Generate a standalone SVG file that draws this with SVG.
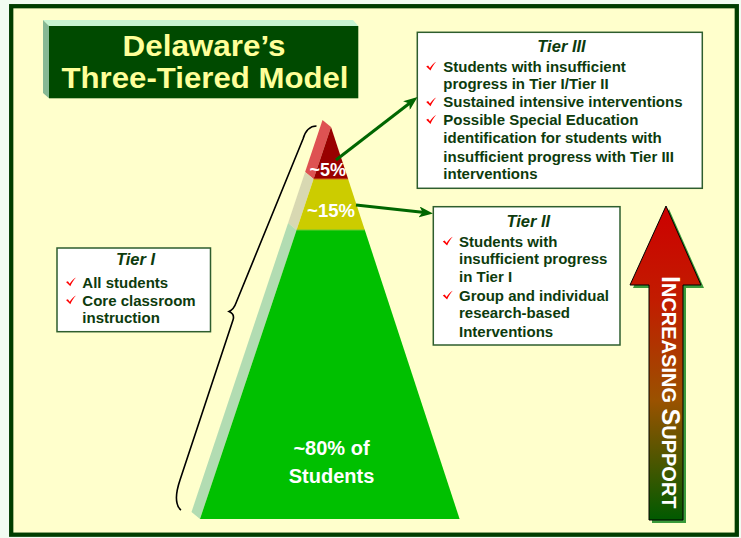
<svg xmlns="http://www.w3.org/2000/svg" width="741" height="538" viewBox="0 0 741 538">
<style>
.bt{font-family:"Liberation Sans",Arial,sans-serif;font-weight:bold;font-size:15px;fill:#0d3b0d}
.ttl{font-family:"Liberation Sans",Arial,sans-serif;font-weight:bold;font-style:italic;font-size:16.5px;fill:#0d3b0d;text-anchor:middle}
.box{fill:#ffffff;stroke:#2e5e2e;stroke-width:1.5}
.pct{font-family:"Liberation Sans",Arial,sans-serif;font-weight:bold;fill:#ffffff;text-anchor:middle}
.conn{stroke:#006600;stroke-width:3;fill:none}
</style>
<defs>
<path id="ck" d="M0,4.6 L1.9,3.7 L3.7,6.2 C5.6,3.3 7.6,1.3 10,0 C7.8,2.2 5.8,5.3 4.3,8.8 Z" fill="#ff0000"/>
<marker id="ah" markerUnits="userSpaceOnUse" markerWidth="14" markerHeight="11" refX="8" refY="5.5" orient="auto">
<path d="M0,0 L14,5.5 L0,11 L3.5,5.5 Z" fill="#006600"/>
</marker>
<linearGradient id="ag" x1="0" y1="0" x2="0" y2="1">
<stop offset="0" stop-color="#cc0000"/>
<stop offset="0.3" stop-color="#c21c00"/>
<stop offset="0.62" stop-color="#9a5200"/>
<stop offset="1" stop-color="#005a00"/>
</linearGradient>
</defs>
<rect x="0" y="0" width="741" height="538" fill="#f2fcf2"/>
<rect x="11.2" y="6.2" width="725.6" height="528.5" fill="#ffffcc" stroke="#003d00" stroke-width="4.3"/>

<g id="title">
<polygon points="43,20 353,20 358.3,26 49,26" fill="#c8f5d2"/>
<polygon points="43,20 49,26 49,98.3 43,93" fill="#86b894"/>
<rect x="49" y="26" width="309.3" height="72.3" fill="#004a00"/>
<text x="204" y="56" font-family="Liberation Sans,Arial,sans-serif" font-weight="bold" font-size="29" fill="#ffff99" text-anchor="middle" textLength="163" lengthAdjust="spacingAndGlyphs">Delaware’s</text>
<text x="205" y="88.3" font-family="Liberation Sans,Arial,sans-serif" font-weight="bold" font-size="29" fill="#ffff99" text-anchor="middle" textLength="287" lengthAdjust="spacingAndGlyphs">Three-Tiered Model</text>
</g>

<g id="pyramid">
<polygon points="331,127 313.6,179 305.1,172 322.5,120" fill="#de5252"/>
<polygon points="313.6,179 296.6,230 288.1,223 305.1,172" fill="#d8d8b2"/>
<polygon points="296.6,230 200,519 191.5,512 288.1,223" fill="#b2dcb2"/>
<polygon points="331,127 348.1,179 313.6,179" fill="#990000"/>
<polygon points="313.6,179 348.1,179 364.8,230 296.6,230" fill="#cccc00"/>
<polygon points="296.6,230 364.8,230 459.6,519 200,519" fill="#00c000"/>
<line x1="313.6" y1="179" x2="348.1" y2="179" stroke="#d86a1a" stroke-width="1"/>
<line x1="296.6" y1="230" x2="364.8" y2="230" stroke="#66cc33" stroke-width="1"/>
<text class="pct" x="327.7" y="176" font-size="18">~5%</text>
<text class="pct" x="331" y="216.5" font-size="18.5">~15%</text>
<text class="pct" x="331.5" y="455" font-size="20">~80% of</text>
<text class="pct" x="331.5" y="482.5" font-size="20">Students</text>
</g>

<g id="brace">
<path d="M316.5,126 C309,126 305,132 303,139 L236,303 Q234,309 229,311.5 Q235,314 233,320 L180,480 Q175,495 177,503 Q178,508 181,510" fill="none" stroke="#000000" stroke-width="1.6"/>
</g>

<g id="tier1">
<rect class="box" x="57" y="248" width="153.5" height="83.7"/>
<text class="ttl" x="135.5" y="265">Tier I</text>
<use href="#ck" x="66" y="277.5"/>
<use href="#ck" x="66" y="295.5"/>
<text class="bt" x="82.3" y="287.7">All students</text>
<text class="bt" x="82.3" y="305.7">Core classroom</text>
<text class="bt" x="82.3" y="323.3">instruction</text>
</g>

<g id="tier3">
<rect class="box" x="417.3" y="32.3" width="285" height="156"/>
<text class="ttl" x="561.5" y="52.3">Tier III</text>
<use href="#ck" x="426.2" y="61.8"/>
<use href="#ck" x="426.2" y="97.4"/>
<use href="#ck" x="426.2" y="115.1"/>
<text class="bt" x="443.3" y="71.7">Students with insufficient</text>
<text class="bt" x="443.3" y="89.3">progress in Tier I/Tier II</text>
<text class="bt" x="443.3" y="107.3">Sustained intensive interventions</text>
<text class="bt" x="443.3" y="125">Possible Special Education</text>
<text class="bt" x="443.3" y="143.3">identification for students with</text>
<text class="bt" x="443.3" y="161.7">insufficient progress with Tier III</text>
<text class="bt" x="443.3" y="179.3">interventions</text>
</g>

<g id="tier2">
<rect class="box" x="433.3" y="206.7" width="186.7" height="138.3"/>
<text class="ttl" x="528.3" y="226.7">Tier II</text>
<use href="#ck" x="442.8" y="236.8"/>
<use href="#ck" x="442.8" y="290.8"/>
<text class="bt" x="459" y="246.7">Students with</text>
<text class="bt" x="459" y="264.3">insufficient progress</text>
<text class="bt" x="459" y="282.3">in Tier I</text>
<text class="bt" x="459" y="300.7">Group and individual</text>
<text class="bt" x="459" y="318.3">research-based</text>
<text class="bt" x="459" y="336.7">Interventions</text>
</g>

<g id="connectors">
<line class="conn" x1="336" y1="160" x2="412.8" y2="100.7" marker-end="url(#ah)"/>
<line class="conn" x1="356" y1="205" x2="427" y2="212.8" marker-end="url(#ah)"/>
</g>

<g id="support-arrow">
<polygon points="669,209 704,288 686,288 686,523 652,523 652,288 633,288" fill="#3a9a3a"/>
<polygon points="666,206 701,285 683,285 683,520 649,520 649,285 630,285" fill="url(#ag)" stroke="#000000" stroke-width="1"/>
<text transform="translate(661.5,0) rotate(90)" x="276" y="0" font-family="Liberation Sans,Arial,sans-serif" font-weight="bold" fill="#ffffff"><tspan font-size="25">I</tspan><tspan font-size="20">NCREASING </tspan><tspan font-size="25">S</tspan><tspan font-size="20">UPPORT</tspan></text>
</g>
</svg>
